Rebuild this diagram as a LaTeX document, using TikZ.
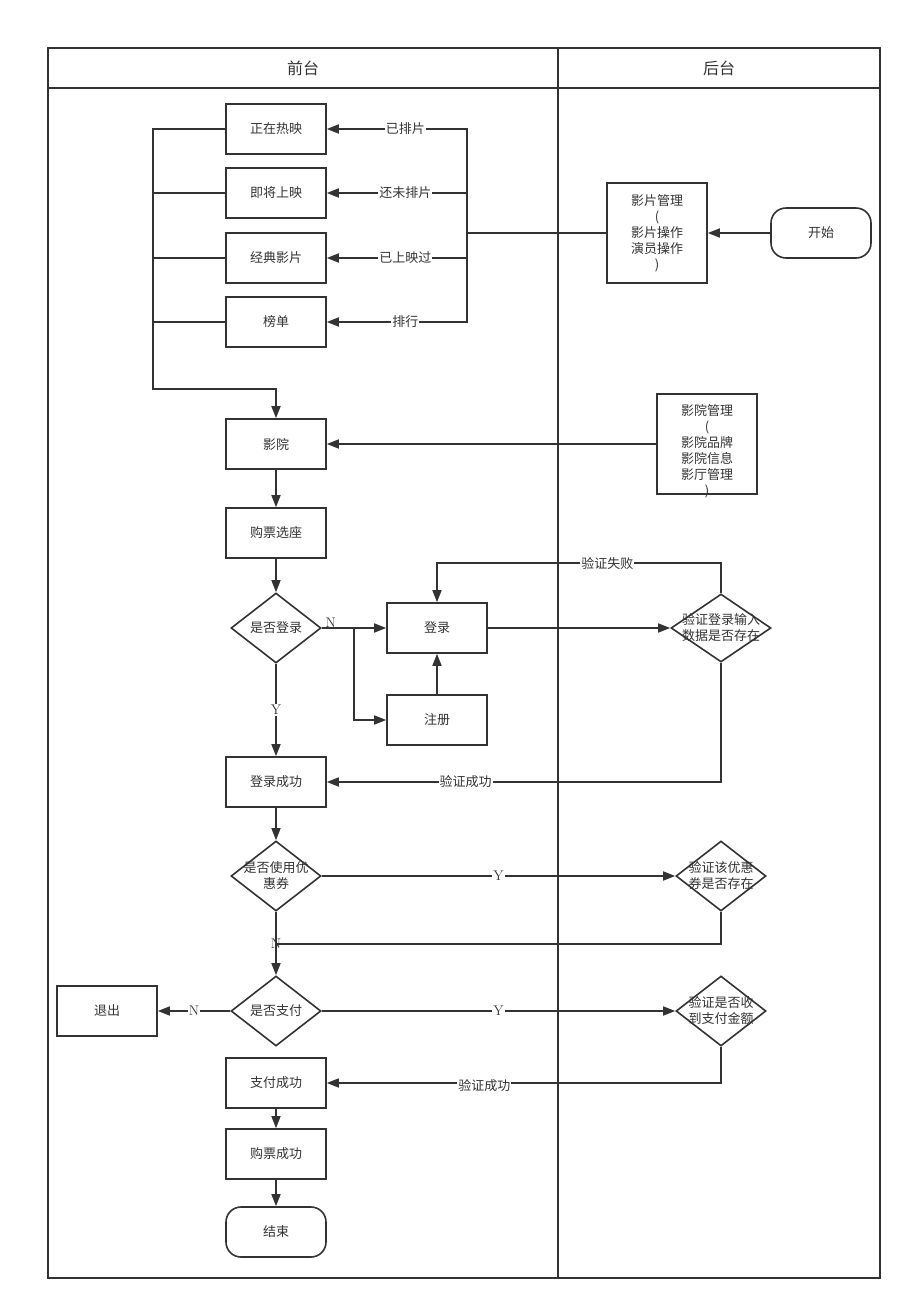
\documentclass[tikz,border=0pt]{standalone}
\usepackage{fontspec}
\usepackage{tikz}
\usetikzlibrary{shapes.geometric,arrows.meta}
\newfontfamily\cjk{Noto Sans CJK SC}
\definecolor{linegray}{HTML}{333333}

\begin{document}
\begin{tikzpicture}[x=1pt, y=-1pt, line width=1.6pt, draw=linegray, text=linegray,
  font=\cjk\fontsize{13}{16}\selectfont,
  box/.style={draw, rectangle, minimum width=100, minimum height=50, inner sep=0pt, align=center},
  bigbox/.style={box, minimum height=100},
  term/.style={box, rounded corners=15pt},
  decision/.style={draw, diamond, minimum width=90, minimum height=70, inner sep=0pt},
  arr/.style={-{Triangle[length=12pt,width=9pt]}},
  lbl/.style={fill=white, inner sep=1pt},
  yn/.style={font=\normalfont\fontsize{14}{16}\selectfont, inner sep=1pt}]
\useasboundingbox (0,0) rectangle (911,1310);
% Lanes
\draw (48,48) rectangle (880,1278);
\draw (48,88) -- (880,88);
\draw (558,48) -- (558,1278);
\node[font=\cjk\fontsize{16}{18}\selectfont] (lane-front) at (303,68) {前台};
\node[font=\cjk\fontsize{16}{18}\selectfont] (lane-back) at (719,68) {后台};
% Movie lists
\node[box] (now) at (276,129) {正在热映};
\node[box] (soon) at (276,193) {即将上映};
\node[box] (classic) at (276,258) {经典影片};
\node[box] (rank) at (276,322) {榜单};
% Back end
\node[term] (start) at (821,233) {开始};
\node[bigbox] (filmmgr) at (657,233) {影片管理\\(\\影片操作\\演员操作\\)};
\node[bigbox, label={[align=center, yshift=-7pt]center:影院管理\\(\\影院品牌\\影院信息\\影厅管理\\)}] (cinemamgr) at (707,444) {};
% Purchase
\node[box] (cinema) at (276,444) {影院};
\node[box] (seat) at (276,533) {购票选座};
\node[decision, label={center:是否登录}] (islogin) at (276,628) {};
\node[box] (login) at (437,628) {登录};
\node[box] (register) at (437,720) {注册};
\node[decision, minimum width=100, minimum height=68, label={[align=center]center:验证登录输入\\数据是否存在}] (checklogin) at (721,628) {};
\node[box] (loginok) at (276,782) {登录成功};
\node[decision, label={[align=center]center:是否使用优\\惠券}] (coupon) at (276,876) {};
\node[decision, label={[align=center]center:验证该优惠\\券是否存在}] (checkcoupon) at (721,876) {};
\node[decision, label={center:是否支付}] (pay) at (276,1011) {};
\node[box] (quit) at (107,1011) {退出};
\node[decision, label={[align=center]center:验证是否收\\到支付金额}] (checkpay) at (721,1011) {};
\node[box] (payok) at (276,1083) {支付成功};
\node[box] (buyok) at (276,1154) {购票成功};
\node[term] (end) at (276,1232) {结束};
% Joints
\coordinate (lbus) at (153,389);
\coordinate (rbus) at (467,233);
\coordinate (nbranch) at (354,628);
\coordinate (njoin) at (276,944);
% Edges
\draw[arr] (start) -- (filmmgr);
\draw (filmmgr.west) -- (rbus);
\draw[arr] (rbus) |- node[lbl, pos=0.72] {已排片} (now.east);
\draw[arr] (rbus) |- node[lbl, pos=0.72] {还未排片} (soon.east);
\draw[arr] (rbus) |- node[lbl, pos=0.72] {已上映过} (classic.east);
\draw[arr] (rbus) |- node[lbl, pos=0.72] {排行} (rank.east);
\draw[arr] (now.west) -| (lbus) -| (cinema.north);
\draw (soon.west) -- (soon.west -| lbus);
\draw (classic.west) -- (classic.west -| lbus);
\draw (rank.west) -- (rank.west -| lbus);
\draw[arr] (cinemamgr.west) -- (cinema.east);
\draw[arr] (cinema) -- (seat);
\draw[arr] (seat) -- (islogin.north);
\draw[arr] (islogin.east) -- node[yn, pos=0.14, above, inner sep=0pt] {N} (login.west);
\draw[arr] (nbranch) |- (register.west);
\draw[arr] (register) -- (login);
\draw[arr] (login.east) -- (checklogin.west);
\draw[arr] (checklogin.north) -- ++(0,-30) -| node[lbl, pos=0.2] {验证失败} (login.north);
\draw[arr] (checklogin.south) |- node[lbl, pos=0.824] {验证成功} (loginok.east);
\draw[arr] (islogin.south) -- node[yn, fill=white] {Y} (loginok.north);
\draw[arr] (loginok) -- (coupon.north);
\draw[arr] (coupon.east) -- node[yn, fill=white] {Y} (checkcoupon.west);
\draw (checkcoupon.south) |- (njoin);
\draw[arr] (coupon.south) -- node[yn] {N} (pay.north);
\draw[arr] (pay.west) -- node[yn, fill=white] {N} (quit.east);
\draw[arr] (pay.east) -- node[yn, fill=white] {Y} (checkpay.west);
\draw[arr] (checkpay.south) |- node[lbl, pos=0.8, yshift=-3pt] {验证成功} (payok.east);
\draw[arr] (payok) -- (buyok);
\draw[arr] (buyok) -- (end);
\end{tikzpicture}
\end{document}
